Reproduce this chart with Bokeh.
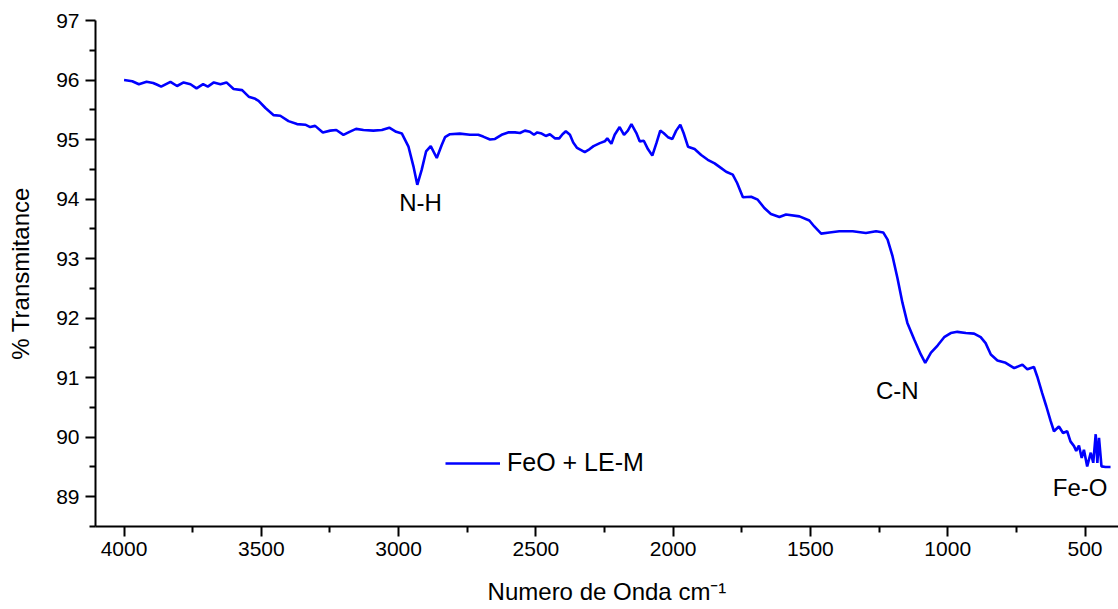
from bokeh.plotting import figure
from bokeh.models import Range1d, FixedTicker, Legend, LegendItem, Label
from bokeh.embed import file_html
from bokeh.resources import INLINE

# ---- data ----
wavenumber = [4000, 3970, 3946, 3918, 3894, 3879, 3865, 3831, 3807, 3783, 3758, 3736,
              3712, 3695, 3673, 3649, 3627, 3601, 3570, 3546, 3525, 3510, 3485, 3455,
              3431, 3401, 3370, 3340, 3322, 3304, 3276, 3249, 3227, 3201, 3179, 3155,
              3128, 3092, 3061, 3034, 3009, 2988, 2964, 2946, 2932, 2916, 2900, 2883,
              2861, 2843, 2831, 2813, 2777, 2740, 2710, 2692, 2667, 2649, 2625, 2601,
              2576, 2558, 2540, 2522, 2507, 2495, 2479, 2464, 2449, 2431, 2415, 2403,
              2391, 2376, 2364, 2350, 2322, 2304, 2290, 2267, 2249, 2240, 2225, 2213,
              2195, 2179, 2165, 2152, 2134, 2122, 2107, 2092, 2076, 2061, 2047, 2035,
              2019, 2003, 1989, 1974, 1962, 1946, 1922, 1898, 1874, 1849, 1825, 1807,
              1783, 1767, 1746, 1716, 1692, 1668, 1644, 1613, 1589, 1540, 1504, 1486,
              1461, 1431, 1395, 1346, 1298, 1261, 1235, 1219, 1201, 1183, 1165, 1147,
              1122, 1098, 1082, 1061, 1037, 1013, 989, 965, 934, 904, 880, 862,
              843, 819, 789, 758, 728, 710, 686, 674, 656, 641, 625, 613,
              595, 580, 565, 553, 540, 532, 522, 512, 504, 492, 479, 470,
              461, 455, 449, 440, 425, 407]
transmittance = [96.00, 95.98, 95.93, 95.97, 95.95, 95.92, 95.89, 95.97, 95.90, 95.96, 95.93, 95.86,
                 95.93, 95.89, 95.96, 95.93, 95.96, 95.85, 95.83, 95.72, 95.69, 95.65, 95.53, 95.41,
                 95.40, 95.31, 95.26, 95.25, 95.21, 95.23, 95.12, 95.15, 95.16, 95.08, 95.13, 95.18,
                 95.16, 95.15, 95.16, 95.20, 95.13, 95.10, 94.88, 94.55, 94.24, 94.49, 94.80, 94.89,
                 94.69, 94.91, 95.04, 95.09, 95.10, 95.08, 95.08, 95.05, 95.00, 95.01, 95.08, 95.12,
                 95.12, 95.11, 95.15, 95.13, 95.08, 95.12, 95.10, 95.06, 95.09, 95.02, 95.02, 95.09,
                 95.14, 95.08, 94.95, 94.86, 94.79, 94.84, 94.89, 94.94, 94.97, 95.02, 94.93, 95.08,
                 95.21, 95.08, 95.15, 95.26, 95.11, 94.97, 94.98, 94.84, 94.73, 94.94, 95.15, 95.11,
                 95.04, 95.01, 95.15, 95.25, 95.11, 94.88, 94.84, 94.74, 94.66, 94.60, 94.52, 94.46,
                 94.41, 94.27, 94.03, 94.04, 93.99, 93.85, 93.75, 93.70, 93.74, 93.71, 93.64, 93.54,
                 93.42, 93.44, 93.46, 93.46, 93.43, 93.46, 93.44, 93.32, 93.04, 92.67, 92.26, 91.92,
                 91.64, 91.39, 91.25, 91.42, 91.54, 91.68, 91.75, 91.77, 91.75, 91.74, 91.68, 91.58,
                 91.39, 91.29, 91.25, 91.16, 91.22, 91.14, 91.18, 91.02, 90.74, 90.52, 90.27, 90.10,
                 90.18, 90.07, 90.10, 89.93, 89.85, 89.77, 89.86, 89.65, 89.79, 89.51, 89.74, 89.57,
                 90.05, 89.57, 89.99, 89.51, 89.50, 89.50]

x_ticks = [4000, 3500, 3000, 2500, 2000, 1500, 1000, 500]
x_minor = [3750, 3250, 2750, 2250, 1750, 1250, 750]
y_ticks = [89, 90, 91, 92, 93, 94, 95, 96, 97]
y_minor = [88.5, 89.5, 90.5, 91.5, 92.5, 93.5, 94.5, 95.5, 96.5]

series_name = "FeO + LE-M"
x_title = "Numero de Onda cm\u207b\u00b9"
y_title = "% Transmitance"
band_labels = ["N-H", "C-N", "Fe-O"]
band_x = [2920, 1184, 518]
band_y = [93.94, 90.78, 89.16]

FONT = "Liberation Sans"

p = figure(width=1118, height=609,
           x_range=Range1d(4104, 378), y_range=Range1d(88.5, 97),
           output_backend="svg", toolbar_location=None,
           min_border_left=95, min_border_right=0, min_border_top=20, min_border_bottom=83)
p.outline_line_color = None
p.background_fill_color = "white"
p.border_fill_color = "white"
p.xgrid.visible = False
p.ygrid.visible = False

r = p.line(wavenumber, transmittance, line_color="#0000FF", line_width=2.6)

for ax in (p.xaxis[0], p.yaxis[0]):
    ax.axis_line_color = "black"
    ax.axis_line_width = 2
    ax.major_tick_line_color = "black"
    ax.major_tick_line_width = 2
    ax.minor_tick_line_color = "black"
    ax.minor_tick_line_width = 2
    ax.major_tick_in = 0
    ax.major_tick_out = 10
    ax.minor_tick_in = 0
    ax.minor_tick_out = 6
    ax.major_label_text_font = FONT
    ax.major_label_text_font_size = "21px"
    ax.major_label_text_color = "black"
    ax.axis_label_text_font = FONT
    ax.axis_label_text_font_size = "24px"
    ax.axis_label_text_font_style = "normal"
    ax.axis_label_text_color = "black"

p.xaxis[0].ticker = FixedTicker(ticks=x_ticks, minor_ticks=x_minor)
p.yaxis[0].ticker = FixedTicker(ticks=y_ticks, minor_ticks=y_minor)
p.xaxis[0].axis_label = x_title
p.yaxis[0].axis_label = y_title
p.xaxis[0].major_label_standoff = 5
p.xaxis[0].axis_label_standoff = 19
p.yaxis[0].major_label_standoff = 6
p.yaxis[0].axis_label_standoff = 19

for t, bx, by in zip(band_labels, band_x, band_y):
    p.add_layout(Label(x=bx, y=by, text=t, text_font=FONT, text_font_size="24px",
                       text_color="black", text_align="center", text_baseline="middle"))

legend = Legend(items=[LegendItem(label=series_name, renderers=[r])],
                location=(350, 49), border_line_color=None, background_fill_alpha=0,
                label_text_font=FONT, label_text_font_size="25px", label_text_color="black",
                glyph_width=55, label_standoff=7, padding=0, margin=0, spacing=0)
p.add_layout(legend)

open("out.html", "w").write(file_html(p, INLINE))
